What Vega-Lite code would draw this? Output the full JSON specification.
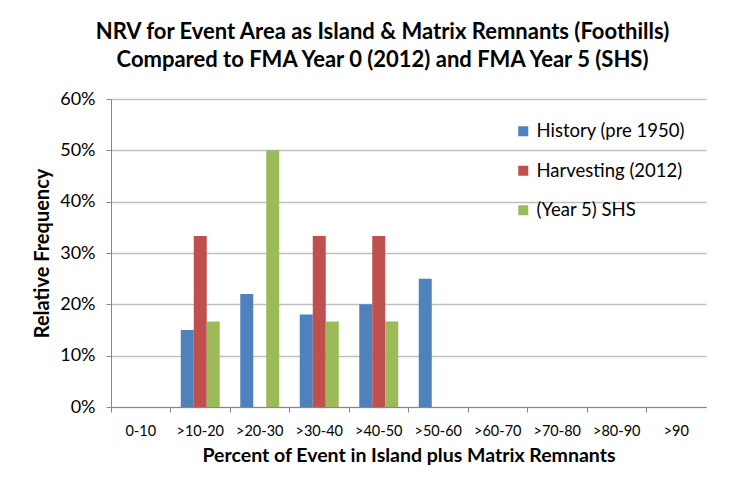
{
  "$schema": "https://vega.github.io/schema/vega-lite/v6.json",
  "width": 595,
  "height": 308,
  "autosize": "none",
  "padding": {"left": 111, "top": 99, "right": 37, "bottom": 72},
  "background": "white",
  "config": {
    "font": "Lato",
    "view": {"stroke": null}
  },
  "title": {
    "text": ["NRV for Event Area as Island & Matrix Remnants (Foothills)", "Compared to FMA Year 0 (2012) and FMA Year 5 (SHS)"],
    "fontSize": 22,
    "fontWeight": "bold",
    "font": "Lato",
    "color": "#000000",
    "anchor": "middle",
    "dx": -26,
    "lineHeight": 28,
    "offset": 18
  },
  "data": {
    "values": [
      {"bin": "0-10", "series": "History (pre 1950)", "value": 0},
      {"bin": ">10-20", "series": "History (pre 1950)", "value": 0.15},
      {"bin": ">20-30", "series": "History (pre 1950)", "value": 0.22},
      {"bin": ">30-40", "series": "History (pre 1950)", "value": 0.18},
      {"bin": ">40-50", "series": "History (pre 1950)", "value": 0.20},
      {"bin": ">50-60", "series": "History (pre 1950)", "value": 0.25},
      {"bin": ">60-70", "series": "History (pre 1950)", "value": 0},
      {"bin": ">70-80", "series": "History (pre 1950)", "value": 0},
      {"bin": ">80-90", "series": "History (pre 1950)", "value": 0},
      {"bin": ">90", "series": "History (pre 1950)", "value": 0},
      {"bin": "0-10", "series": "Harvesting (2012)", "value": 0},
      {"bin": ">10-20", "series": "Harvesting (2012)", "value": 0.3333},
      {"bin": ">20-30", "series": "Harvesting (2012)", "value": 0},
      {"bin": ">30-40", "series": "Harvesting (2012)", "value": 0.3333},
      {"bin": ">40-50", "series": "Harvesting (2012)", "value": 0.3333},
      {"bin": ">50-60", "series": "Harvesting (2012)", "value": 0},
      {"bin": ">60-70", "series": "Harvesting (2012)", "value": 0},
      {"bin": ">70-80", "series": "Harvesting (2012)", "value": 0},
      {"bin": ">80-90", "series": "Harvesting (2012)", "value": 0},
      {"bin": ">90", "series": "Harvesting (2012)", "value": 0},
      {"bin": "0-10", "series": "(Year 5) SHS", "value": 0},
      {"bin": ">10-20", "series": "(Year 5) SHS", "value": 0.1667},
      {"bin": ">20-30", "series": "(Year 5) SHS", "value": 0.5},
      {"bin": ">30-40", "series": "(Year 5) SHS", "value": 0.1667},
      {"bin": ">40-50", "series": "(Year 5) SHS", "value": 0.1667},
      {"bin": ">50-60", "series": "(Year 5) SHS", "value": 0},
      {"bin": ">60-70", "series": "(Year 5) SHS", "value": 0},
      {"bin": ">70-80", "series": "(Year 5) SHS", "value": 0},
      {"bin": ">80-90", "series": "(Year 5) SHS", "value": 0},
      {"bin": ">90", "series": "(Year 5) SHS", "value": 0}
    ]
  },
  "mark": {"type": "bar"},
  "encoding": {
    "x": {
      "field": "bin",
      "type": "nominal",
      "sort": ["0-10", ">10-20", ">20-30", ">30-40", ">40-50", ">50-60", ">60-70", ">70-80", ">80-90", ">90"],
      "scale": {"paddingInner": 0, "paddingOuter": 0},
      "axis": {
        "title": "Percent of Event in Island plus Matrix Remnants",
        "titleFontSize": 19.5,
        "titleFontWeight": "bold",
        "titleColor": "#000000",
        "titlePadding": 9,
        "labelAngle": 0,
        "labelFontSize": 14.5,
        "labelColor": "#000000",
        "labelPadding": 12,
        "bandPosition": 0,
        "domainColor": "#868686",
        "tickColor": "#868686",
        "tickSize": 5,
        "grid": false
      }
    },
    "xOffset": {
      "field": "series",
      "type": "nominal",
      "sort": ["History (pre 1950)", "Harvesting (2012)", "(Year 5) SHS"],
      "scale": {"paddingInner": 0, "paddingOuter": 0.79}
    },
    "y": {
      "field": "value",
      "type": "quantitative",
      "scale": {"domain": [0, 0.6], "nice": false},
      "axis": {
        "title": "Relative Frequency",
        "titleFontSize": 20,
        "titleFontWeight": "bold",
        "titleColor": "#000000",
        "titlePadding": 7,
        "values": [0, 0.1, 0.2, 0.3, 0.4, 0.5, 0.6],
        "format": ".0%",
        "labelFontSize": 18,
        "labelColor": "#000000",
        "labelPadding": 11,
        "domainColor": "#868686",
        "tickColor": "#868686",
        "tickSize": 5,
        "gridColor": "#bfbfbf",
        "gridWidth": 1.3
      }
    },
    "color": {
      "field": "series",
      "type": "nominal",
      "sort": ["History (pre 1950)", "Harvesting (2012)", "(Year 5) SHS"],
      "scale": {
        "domain": ["History (pre 1950)", "Harvesting (2012)", "(Year 5) SHS"],
        "range": ["#4f81bd", "#c0504d", "#9bbb59"]
      },
      "legend": {
        "title": null,
        "orient": "none",
        "legendX": 403,
        "legendY": 23,
        "symbolType": "square",
        "symbolSize": 100,
        "symbolStrokeWidth": 0,
        "labelFontSize": 18.5,
        "labelColor": "#000000",
        "labelOffset": 4,
        "rowPadding": 20.5
      }
    }
  }
}
